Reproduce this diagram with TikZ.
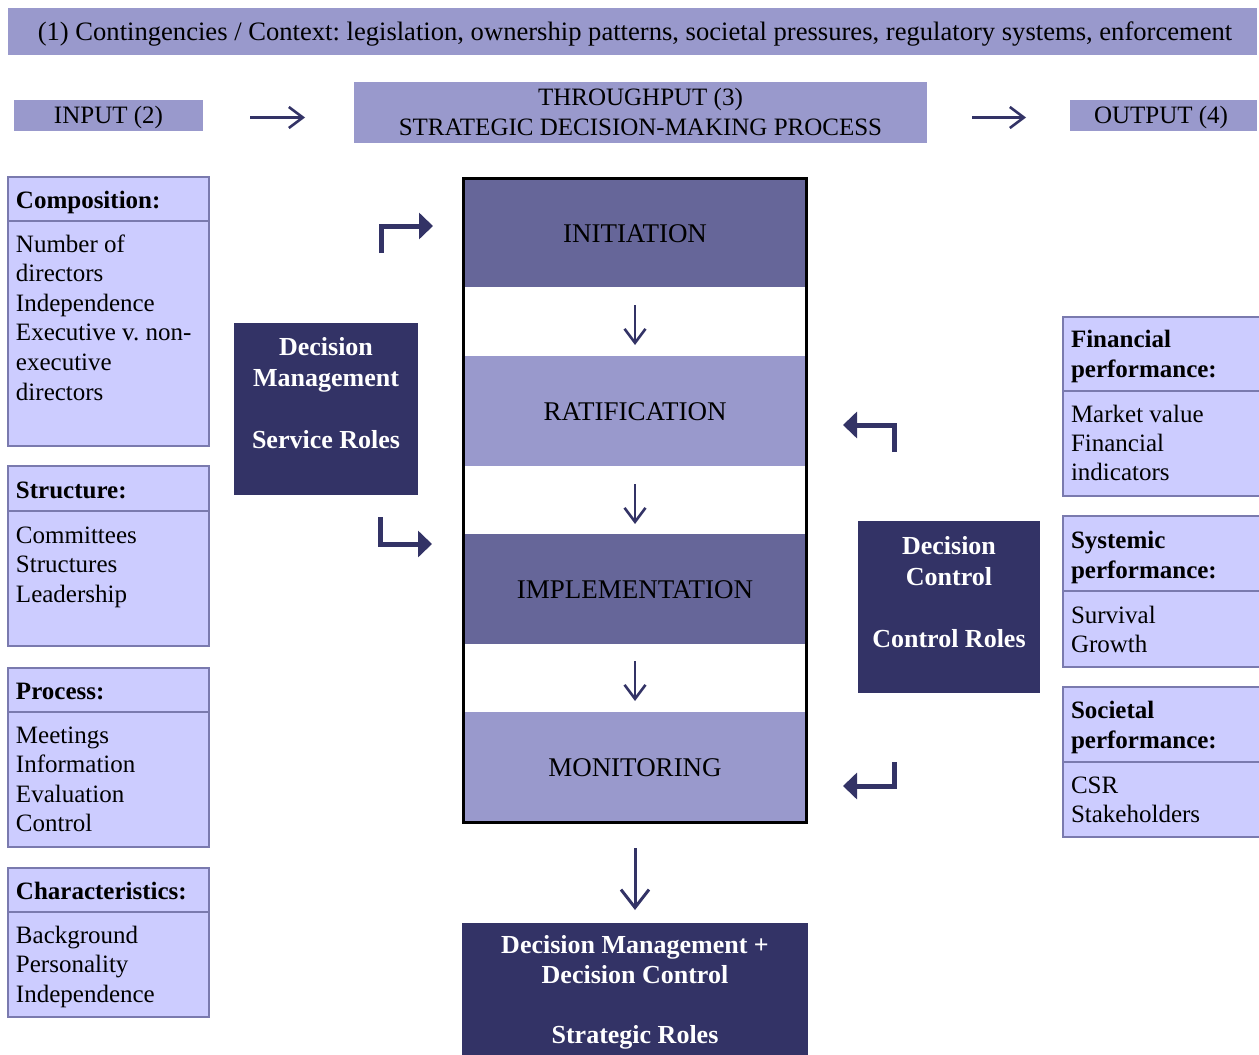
\documentclass[tikz,border=0pt]{standalone}
\usepackage{fontspec}
\setmainfont{Liberation Serif}
\usetikzlibrary{arrows.meta}
\definecolor{lav}{HTML}{9999CC}
\definecolor{lite}{HTML}{CCCCFF}
\definecolor{navy}{HTML}{333366}
\definecolor{mid}{HTML}{666699}
\definecolor{bordc}{HTML}{7A7AAE}
\frenchspacing
\newcommand\Llines[2]{\vtop{\baselineskip=#1\relax\lineskiplimit=-100pt\halign{##\hfil\cr#2\crcr}}}
\newcommand\Clines[2]{\vtop{\baselineskip=#1\relax\lineskiplimit=-100pt\halign{\hfil##\hfil\cr#2\crcr}}}
\begin{document}
\begin{tikzpicture}[x=1pt,y=-1pt,
  every node/.style={inner sep=0pt, outer sep=0pt},
  band/.style={fill=lav, draw=none},
  cell/.style={fill=lite, draw=bordc, line width=1.2pt},
  darkbox/.style={fill=navy, draw=none},
  stagebox/.style={minimum width=342, minimum height=110},
  txt/.style={anchor=base west, text=black, font=\fontsize{25}{29.5}\selectfont},
  ctxt/.style={anchor=base, text=black, font=\fontsize{25}{29.5}\selectfont},
  htxt/.style={anchor=base west, text=black, font=\fontsize{25}{30}\selectfont\bfseries},
  stxt/.style={anchor=base, text=black, font=\fontsize{27}{30}\selectfont},
  wtxt/.style={anchor=base, text=white, font=\fontsize{26}{30}\selectfont\bfseries},
  thinarr/.style={draw=navy, line width=2.6pt, -{Straight Barb[length=14pt,width=21pt]}},
  bigarr/.style={draw=navy, line width=3pt, -{Straight Barb[length=18pt,width=28pt]}},
  bentarr/.style={draw=navy, line width=5pt, line join=miter, -{Triangle[length=14pt,width=26pt]}},
]
\useasboundingbox (0,0) rectangle (1259,1055);

% ---------- top context bar ----------
\node[band, minimum width=1249, minimum height=47] (ctx) at (632.5,31.5) {};
\node[ctxt, font=\fontsize{26.6}{30}\selectfont] (ctxt) at (635,40) {(1) Contingencies / Context: legislation, ownership patterns, societal pressures, regulatory systems, enforcement};

% ---------- input / throughput / output ----------
\node[band, minimum width=189, minimum height=31] (inp) at (108.5,115.5) {};
\node[ctxt] (inpt) at (108.5,123) {INPUT (2)};
\node[band, minimum width=573, minimum height=61] (thr) at (640.5,112.5) {};
\node[ctxt] (thrt) at (640.5,105) {\Clines{30pt}{THROUGHPUT (3)\cr STRATEGIC DECISION-MAKING PROCESS}};
\node[band, minimum width=187, minimum height=31] (outp) at (1163.5,115.5) {};
\node[ctxt] (outpt) at (1161,123) {OUTPUT (4)};
\coordinate (ia) at (203,117.5);
\coordinate (ib) at (354,117.5);
\coordinate (oa) at (927,117.5);
\coordinate (ob) at (1070,117.5);
\draw[thinarr, shorten <=47pt, shorten >=49pt] (inp.east |- ia) -- (thr.west |- ib);
\draw[thinarr, shorten <=45pt, shorten >=44pt] (thr.east |- oa) -- (outp.west |- ob);

% ---------- left boxes ----------
\node[cell, minimum width=201, minimum height=44] (comph) at (108.5,199) {};
\node[cell, minimum width=201, minimum height=225] (compb) at (108.5,333.5) {};
\node[htxt] (compht) at (16,208) {Composition:};
\node[txt] (compbt) at (16,252) {\Llines{29.6pt}{Number of\cr directors\cr Independence\cr Executive v. non-\cr executive\cr directors}};

\node[cell, minimum width=201, minimum height=45] (struh) at (108.5,488.5) {};
\node[cell, minimum width=201, minimum height=135] (strub) at (108.5,578.5) {};
\node[htxt] (struht) at (16,498) {Structure:};
\node[txt] (strubt) at (16,543) {\Llines{29.6pt}{Committees\cr Structures\cr Leadership}};

\node[cell, minimum width=201, minimum height=44] (proch) at (108.5,690) {};
\node[cell, minimum width=201, minimum height=135] (procb) at (108.5,779.5) {};
\node[htxt] (procht) at (16,699) {Process:};
\node[txt] (procbt) at (16,743) {\Llines{29.6pt}{Meetings\cr Information\cr Evaluation\cr Control}};

\node[cell, minimum width=201, minimum height=44] (charh) at (108.5,890) {};
\node[cell, minimum width=201, minimum height=105] (charb) at (108.5,964.5) {};
\node[htxt] (charht) at (16,899) {Characteristics:};
\node[txt] (charbt) at (16,943) {\Llines{29.6pt}{Background\cr Personality\cr Independence}};

% ---------- right boxes ----------
\node[cell, minimum width=199, minimum height=74] (finh) at (1162.5,354) {};
\node[cell, minimum width=199, minimum height=105] (finb) at (1162.5,443.5) {};
\node[htxt] (finht) at (1071,347) {\Llines{30pt}{Financial\cr performance:}};
\node[txt] (finbt) at (1071,422) {\Llines{29.3pt}{Market value\cr Financial\cr indicators}};

\node[cell, minimum width=199, minimum height=75] (sysh) at (1162.5,553.5) {};
\node[cell, minimum width=199, minimum height=76] (sysb) at (1162.5,629) {};
\node[htxt] (sysht) at (1071,548) {\Llines{30pt}{Systemic\cr performance:}};
\node[txt] (sysbt) at (1071,623) {\Llines{29.6pt}{Survival\cr Growth}};

\node[cell, minimum width=199, minimum height=75] (soch) at (1162.5,724.5) {};
\node[cell, minimum width=199, minimum height=75] (socb) at (1162.5,799.5) {};
\node[htxt] (socht) at (1071,718) {\Llines{30pt}{Societal\cr performance:}};
\node[txt] (socbt) at (1071,793) {\Llines{29.6pt}{CSR\cr Stakeholders}};

% ---------- central process column ----------
\node[stagebox, fill=mid, minimum height=108] (init) at (635,233) {};
\node[stagebox, fill=lav] (rat) at (635,411) {};
\node[stagebox, fill=mid] (impl) at (635,589) {};
\node[stagebox, fill=lav] (mon) at (635,767) {};
\node[stxt] (initt) at (635,242) {INITIATION};
\node[stxt] (ratt) at (635,420) {RATIFICATION};
\node[stxt] (implt) at (635,598) {IMPLEMENTATION};
\node[stxt] (mont) at (635,776) {MONITORING};
\node[draw=black, line width=3pt, minimum width=343, minimum height=644] (frame) at (635,500.5) {};
\draw[thinarr, shorten <=18pt, shorten >=11pt] (init) -- (rat);
\draw[thinarr, shorten <=18pt, shorten >=10pt] (rat) -- (impl);
\draw[thinarr, shorten <=17pt, shorten >=11pt] (impl) -- (mon);

% ---------- role boxes ----------
\node[darkbox, minimum width=184, minimum height=172] (dm) at (326,408.5) {};
\node[wtxt] (dmt) at (326,355) {\Clines{31pt}{Decision\cr Management\cr\cr Service Roles}};
\node[darkbox, minimum width=182, minimum height=172] (dc) at (949,607) {};
\node[wtxt] (dct) at (949,554) {\Clines{31pt}{Decision\cr Control\cr\cr Control Roles}};
\node[darkbox, minimum width=346, minimum height=133] (strat) at (635,989.5) {};
\node[wtxt] (stratt) at (635,953) {\Clines{30pt}{Decision Management +\cr Decision Control\cr\cr Strategic Roles}};
\draw[bigarr, shorten <=25.5pt, shorten >=13pt] (frame) -- (strat);

% ---------- bent arrows ----------
\coordinate (tl0) at (381.5,253);
\coordinate (tl1) at (433,226);
\coordinate (bl0) at (380.5,517);
\coordinate (bl1) at (432,544);
\coordinate (tr0) at (894.5,452);
\coordinate (tr1) at (843,425);
\coordinate (br0) at (894.5,762);
\coordinate (br1) at (843,786);
\draw[bentarr] (tl0) |- (tl1);
\draw[bentarr] (bl0) |- (bl1);
\draw[bentarr] (tr0) |- (tr1);
\draw[bentarr] (br0) |- (br1);
\end{tikzpicture}
\end{document}
